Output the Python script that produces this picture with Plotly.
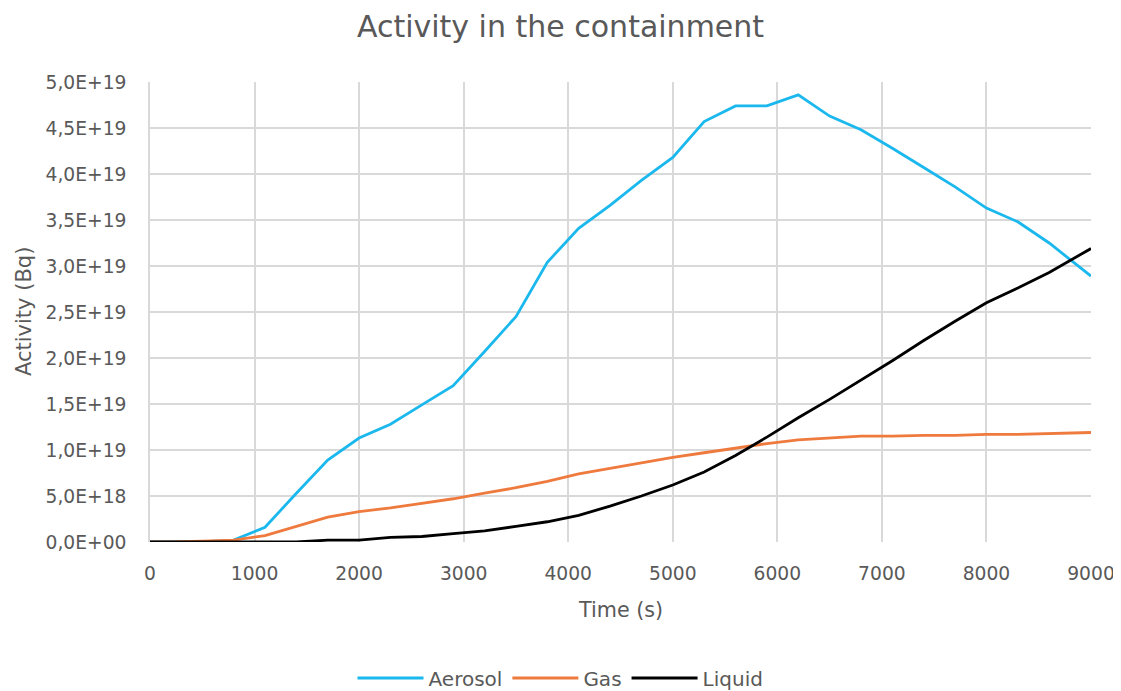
import plotly.graph_objects as go

time_s = [0, 200, 500, 800, 1100, 1400, 1700, 2000, 2300, 2600, 2900, 3200, 3500, 3800,
          4100, 4400, 4700, 5000, 5300, 5600, 5900, 6200, 6500, 6800, 7100, 7400, 7700,
          8000, 8300, 8600, 8900, 9000]

aerosol_e19 = [0, 0, 0, 0.02, 0.16, 0.53, 0.89, 1.13, 1.28, 1.49, 1.70, 2.07, 2.45, 3.04,
               3.41, 3.66, 3.93, 4.18, 4.57, 4.74, 4.74, 4.86, 4.63, 4.48, 4.28, 4.07, 3.86,
               3.63, 3.48, 3.25, 2.98, 2.89]
gas_e19 = [0, 0, 0.01, 0.02, 0.07, 0.17, 0.27, 0.33, 0.37, 0.42, 0.47, 0.53, 0.59, 0.66,
           0.74, 0.80, 0.86, 0.92, 0.97, 1.02, 1.07, 1.11, 1.13, 1.15, 1.15, 1.16, 1.16,
           1.17, 1.17, 1.18, 1.19, 1.19]
liquid_e19 = [0, 0, 0, 0, 0, 0, 0.02, 0.02, 0.05, 0.06, 0.09, 0.12, 0.17, 0.22,
              0.29, 0.39, 0.50, 0.62, 0.76, 0.94, 1.14, 1.35, 1.55, 1.76, 1.97, 2.19, 2.40,
              2.60, 2.76, 2.93, 3.12, 3.19]

y_tick_values = [0, 5e18, 1e19, 1.5e19, 2e19, 2.5e19, 3e19, 3.5e19, 4e19, 4.5e19, 5e19]
y_tick_labels = ["0,0E+00", "5,0E+18", "1,0E+19", "1,5E+19", "2,0E+19", "2,5E+19",
                 "3,0E+19", "3,5E+19", "4,0E+19", "4,5E+19", "5,0E+19"]
x_tick_values = [0, 1000, 2000, 3000, 4000, 5000, 6000, 7000, 8000, 9000]

series = [
    ("Aerosol", aerosol_e19, "#1BB8EE"),
    ("Gas", gas_e19, "#EE7A3E"),
    ("Liquid", liquid_e19, "#000000"),
]

fig = go.Figure()
for name, vals, color in series:
    fig.add_trace(go.Scatter(
        x=time_s, y=[v * 1e19 for v in vals], name=name, mode="lines",
        line=dict(color=color, width=2.8),
    ))

font_family = "DejaVu Sans, sans-serif"
grey = "#595959"
grid = "#D9D9D9"

# page body has an 8px default margin, so the figure starts at (8, 8) in the window
W, H = 1113, 683
ML, MR, MT, MB = 142, 30, 74, 149
plot_w = W - ML - MR
plot_h = H - MT - MB

fig.update_layout(
    width=W, height=H,
    paper_bgcolor="white", plot_bgcolor="white",
    margin=dict(l=ML, r=MR, t=MT, b=MB, autoexpand=False),
    font=dict(family=font_family, color=grey, size=18.7),
    title=dict(text="Activity in the containment", x=(560.5 - 8) / W, xanchor="center",
               xref="container", y=1 - 18 / H, yanchor="middle", yref="container",
               font=dict(size=30, color=grey, family=font_family)),
    showlegend=True,
    legend=dict(orientation="h", x=(552.5 - ML) / plot_w, xanchor="center",
                y=-136 / plot_h, yanchor="middle",
                font=dict(size=20, color=grey), itemwidth=66,
                bgcolor="rgba(0,0,0,0)"),
    xaxis=dict(
        range=[0, 9000], tickvals=x_tick_values, tickformat="d",
        showgrid=True, gridcolor=grid, gridwidth=1.5,
        zeroline=False, showline=False, ticks="", automargin=False,
        ticklabelstandoff=18,
        tickfont=dict(size=18.7, color=grey),
    ),
    yaxis=dict(
        range=[0, 5e19], tickvals=y_tick_values, ticktext=y_tick_labels,
        showgrid=True, gridcolor=grid, gridwidth=1.5,
        zeroline=False, showline=True, linecolor=grid, linewidth=1.5, ticks="",
        automargin=False, ticklabelstandoff=18,
        tickfont=dict(size=18.7, color=grey),
    ),
    annotations=[
        dict(text="Time (s)", xref="paper", yref="paper", x=0.5, y=-68 / plot_h,
             xanchor="center", yanchor="middle", showarrow=False,
             font=dict(size=20.7, color=grey, family=font_family)),
        dict(text="Activity (Bq)", xref="paper", yref="paper", x=-126 / plot_w, y=0.5,
             xanchor="center", yanchor="middle", showarrow=False, textangle=-90,
             font=dict(size=21, color=grey, family=font_family)),
    ],
)

fig.write_html("out.html")
